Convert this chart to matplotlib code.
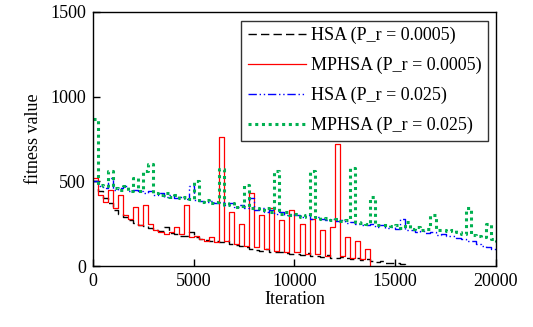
import matplotlib
matplotlib.use("Agg")
import matplotlib.pyplot as plt
import numpy as np

plt.rcParams['font.family'] = ['Liberation Serif', 'DejaVu Serif']

step = 250
hsa_0005 = [500, 440, 400, 370, 330, 310, 290, 270, 255, 245, 235, 225, 215, 205, 230, 195,
            190, 180, 175, 200, 170, 160, 155, 150, 145, 140, 150, 130, 125, 120, 110, 100,
            95, 90, 100, 85, 80, 85, 75, 70, 70, 65, 75, 60, 60, 55, 65, 50, 50, 55, 45, 40,
            45, 35, 40, 30, 25, 30, 20, 15, 18, 10, 5]
mphsa_0005 = [520, 420, 380, 450, 340, 420, 300, 280, 350, 240, 360, 250, 210, 200, 190, 200,
              230, 190, 360, 170, 180, 160, 150, 170, 140, 760, 150, 320, 130, 250, 120, 430,
              110, 300, 100, 340, 90, 270, 80, 330, 80, 250, 70, 280, 70, 210, 60, 230, 720,
              60, 170, 50, 150, 40, 100, 0]
hsa_025 = [500, 470, 460, 520, 450, 460, 470, 440, 450, 440, 430, 440, 420, 430, 410, 420,
           400, 410, 395, 470, 390, 385, 380, 385, 370, 380, 360, 370, 350, 360, 340, 400,
           330, 340, 320, 330, 310, 320, 300, 310, 300, 290, 300, 280, 290, 280, 270, 275,
           265, 270, 255, 260, 250, 245, 240, 250, 230, 240, 225, 230, 220, 280, 210, 215,
           200, 205, 195, 200, 185, 190, 175, 180, 165, 160, 150, 145, 130, 120, 110, 100, 90]
mphsa_025 = [870, 480, 470, 560, 460, 450, 470, 440, 520, 440, 560, 600, 430, 420, 430, 410,
             420, 400, 410, 395, 500, 380, 390, 370, 380, 570, 360, 370, 350, 355, 480, 340,
             345, 330, 340, 320, 560, 310, 320, 300, 310, 290, 300, 560, 290, 280, 285, 270,
             280, 265, 270, 580, 260, 255, 250, 410, 245, 240, 245, 235, 240, 225, 260, 220,
             230, 215, 220, 300, 210, 215, 205, 210, 200, 190, 340, 185, 180, 170, 250, 160, 140]

labels = ['HSA (P_r = 0.0005)', 'MPHSA (P_r = 0.0005)', 'HSA (P_r = 0.025)', 'MPHSA (P_r = 0.025)']

fig = plt.figure(figsize=(5.33, 3.27), dpi=100)
ax = fig.add_axes([0.1745, 0.1865, 0.756, 0.777])

def xs(v):
    return np.arange(len(v)) * step

ax.plot(xs(hsa_0005), hsa_0005, color='black', linestyle=(0, (6, 3)), linewidth=1.0,
        drawstyle='steps-post', label=labels[0])
ax.plot(xs(mphsa_0005), mphsa_0005, color='red', linestyle='-', linewidth=0.9,
        drawstyle='steps-post', label=labels[1])
ax.plot(xs(hsa_025), hsa_025, color='blue', linestyle=(0, (6, 2, 1, 2, 1, 2)), linewidth=1.0,
        drawstyle='steps-post', label=labels[2])
ax.plot(xs(mphsa_025), mphsa_025, color='#00b050', linestyle=(0, (1, 1.2)), linewidth=2.2,
        drawstyle='steps-post', label=labels[3])

fs = 13
ax.set_xlim(0, 20000)
ax.set_ylim(0, 1500)
ax.set_xticks([0, 5000, 10000, 15000, 20000])
ax.set_yticks([0, 500, 1000, 1500])
ax.tick_params(direction='in', labelsize=fs, length=5, width=1, pad=5)
for s in ax.spines.values():
    s.set_linewidth(1.0)
ax.set_xlabel('Iteration', fontsize=fs, labelpad=1)
ax.set_ylabel('fitness value', fontsize=fs, labelpad=6)

leg = ax.legend(loc='upper right', fontsize=13, frameon=True, fancybox=False,
                edgecolor='black', handlelength=3.2, borderpad=0.35, labelspacing=0.7,
                handletextpad=0.3, borderaxespad=0.0, bbox_to_anchor=(0.98, 0.965))
leg.get_frame().set_linewidth(1.0)

fig.savefig('out.png', dpi=100)
